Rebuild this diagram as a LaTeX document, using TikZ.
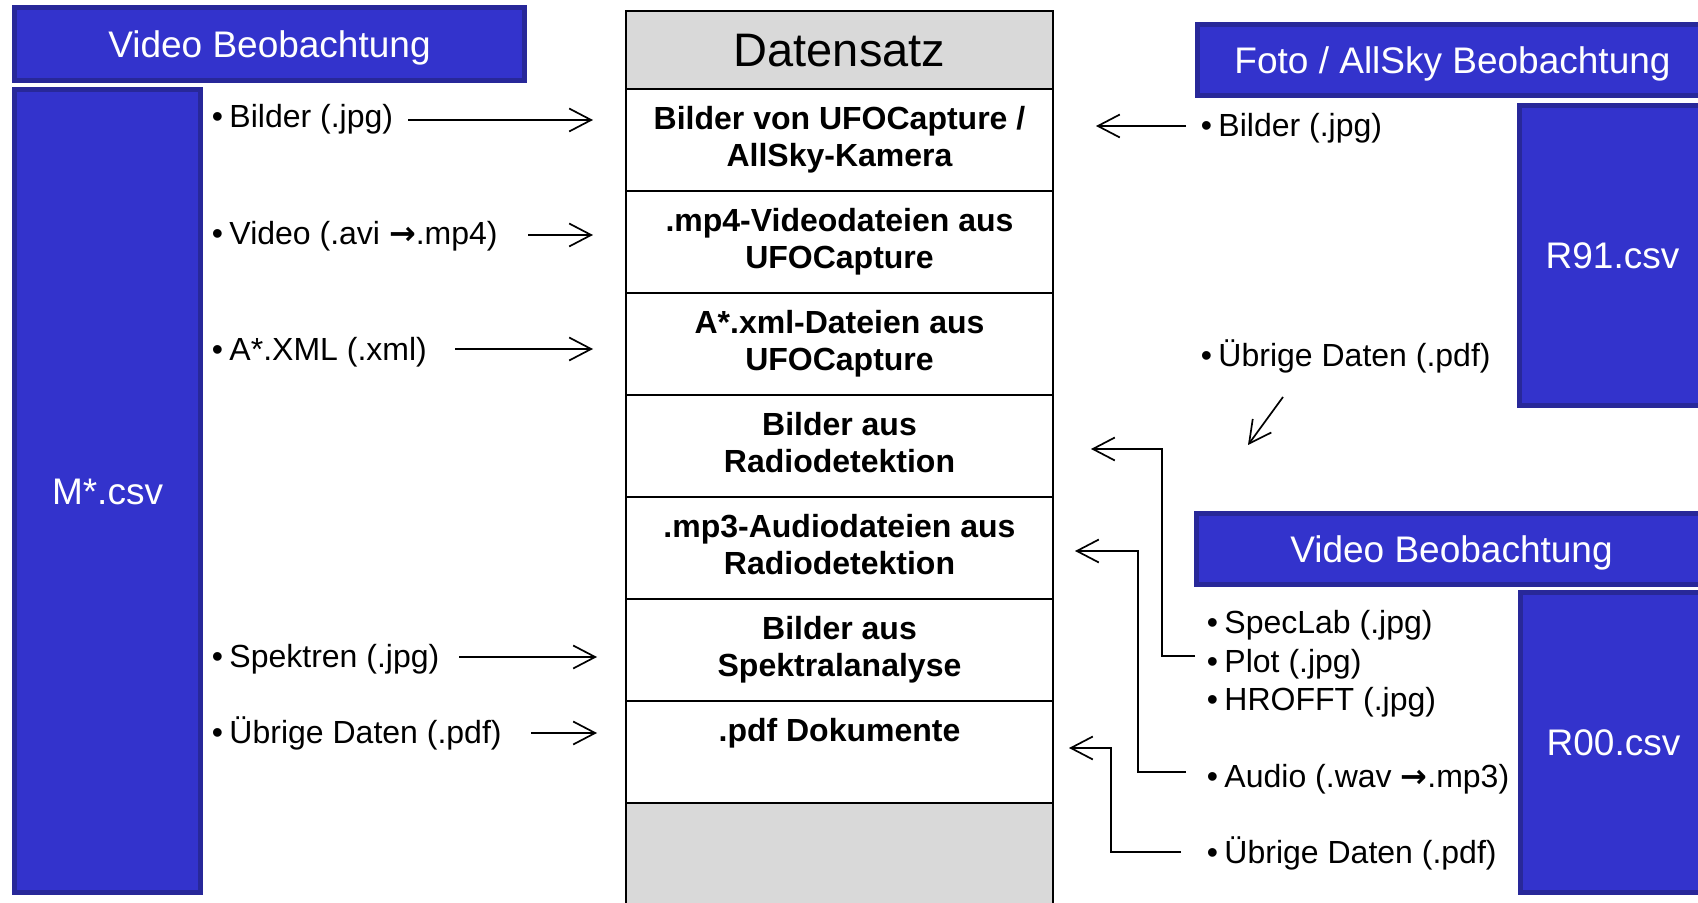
\documentclass[tikz,border=0pt]{standalone}
\usepackage{fontspec}
\setmainfont{Liberation Sans}
\newfontfamily\arrowfont{DejaVu Sans}
\usetikzlibrary{arrows.meta}
\definecolor{bfill}{RGB}{51,51,204}
\definecolor{bdark}{RGB}{40,40,153}
\definecolor{hgray}{RGB}{217,217,217}
\newcommand\rowstrut{\rule[-3.52pt]{0pt}{14.98pt}}
\newcommand\toarrow{{\arrowfont\bfseries →}}
\begin{document}
\begin{tikzpicture}[x=0.5pt,y=-0.5pt,
  bluebox/.style={draw=bdark, fill=bfill, line width=2.5pt, text=white,
    font=\fontsize{18.5}{22}\selectfont, text height=13.25pt, text depth=0pt, inner sep=0pt},
  dshead/.style={draw=black, fill=hgray, line width=0.8pt, minimum width=213.5pt,
    minimum height=39pt, inner sep=0pt, font=\fontsize{23.5}{28}\selectfont,
    text height=16.8pt, text depth=0pt},
  dsrow/.style={draw=black, line width=0.8pt, minimum width=213.5pt, minimum height=51pt,
    inner sep=0pt, align=center, font=\fontsize{16}{18.5}\selectfont\bfseries},
  bul/.style={anchor=base west, inner sep=0pt, font=\fontsize{16}{19}\selectfont},
  arr/.style={line width=0.85pt, -{Straight Barb[length=11pt,width=11.5pt]}}
]
\useasboundingbox (0,0) rectangle (1698,903);
\clip (0,0) rectangle (1698,903);

% blue boxes
\node[bluebox, minimum width=255pt, minimum height=36.5pt] (hdrL) at (269.5,44) {Video Beobachtung};
\node[bluebox, minimum width=93pt, minimum height=401.5pt] (mcsv) at (107.5,491) {M*.csv};
\node[bluebox, minimum width=255pt, minimum height=35.5pt] (hdrF) at (1452.5,60) {Foto / AllSky Beobachtung};
\node[bluebox, minimum width=93pt, minimum height=150pt] (rcsv) at (1612.5,255.5) {R91.csv};
\node[bluebox, minimum width=255pt, minimum height=35.5pt] (hdrV) at (1451.5,549) {Video Beobachtung};
\node[bluebox, minimum width=93pt, minimum height=150pt] (rzero) at (1613.5,742.5) {R00.csv};

% Datensatz column
\node[dshead] (dsh) at (839.5,50) {Datensatz};
\node[dsrow] (row1) at (839.5,140) {\rowstrut Bilder von UFOCapture /\\\rowstrut AllSky-Kamera};
\node[dsrow] (row2) at (839.5,242) {\rowstrut .mp4-Videodateien aus\\\rowstrut UFOCapture};
\node[dsrow] (row3) at (839.5,344) {\rowstrut A*.xml-Dateien aus\\\rowstrut UFOCapture};
\node[dsrow] (row4) at (839.5,446) {\rowstrut Bilder aus\\\rowstrut Radiodetektion};
\node[dsrow] (row5) at (839.5,548) {\rowstrut .mp3-Audiodateien aus\\\rowstrut Radiodetektion};
\node[dsrow] (row6) at (839.5,650) {\rowstrut Bilder aus\\\rowstrut Spektralanalyse};
\node[dsrow] (row7) at (839.5,752) {\rowstrut .pdf Dokumente\\\rowstrut};
\node[dshead, minimum height=54pt] (dsfoot) at (839.5,857) {};

% left bullet texts
\node[bul] (lbild) at (211.5,128) {•\hspace{0.2em}Bilder (.jpg)};
\node[bul] (lvideo) at (211.5,245) {•\hspace{0.2em}Video (.avi \toarrow.mp4)};
\node[bul] (lxml) at (211.5,361) {•\hspace{0.2em}A*.XML (.xml)};
\node[bul] (lspek) at (211.5,667) {•\hspace{0.2em}Spektren (.jpg)};
\node[bul] (luebr) at (211.5,743) {•\hspace{0.2em}Übrige Daten (.pdf)};

% right bullet texts
\node[bul] (rbild) at (1200.5,137) {•\hspace{0.2em}Bilder (.jpg)};
\node[bul] (ruebr) at (1200.5,367) {•\hspace{0.2em}Übrige Daten (.pdf)};
\node[bul] (rspec) at (1206.5,633) {•\hspace{0.2em}SpecLab (.jpg)};
\node[bul] (rplot) at (1206.5,672) {•\hspace{0.2em}Plot (.jpg)};
\node[bul] (rhro) at (1206.5,710) {•\hspace{0.2em}HROFFT (.jpg)};
\node[bul] (raudio) at (1206.5,787) {•\hspace{0.2em}Audio (.wav \toarrow.mp3)};
\node[bul] (ruebrb) at (1206.5,863) {•\hspace{0.2em}Übrige Daten (.pdf)};

% connector end points
\coordinate (a1s) at (408,120);  \coordinate (a1e) at (593,120);
\coordinate (a2s) at (528,235);  \coordinate (a2e) at (593,235);
\coordinate (a3s) at (455,349);  \coordinate (a3e) at (593,349);
\coordinate (a4s) at (459,657);  \coordinate (a4e) at (597,657);
\coordinate (a5s) at (531,733);  \coordinate (a5e) at (597,733);
\coordinate (b1s) at (1186,126); \coordinate (b1e) at (1096,126);
\coordinate (b2s) at (1283,397); \coordinate (b2e) at (1248,445);
\coordinate (c1s) at (1195,656); \coordinate (c1e) at (1091,449);
\coordinate (c2s) at (1186,772); \coordinate (c2e) at (1075,551);
\coordinate (c3s) at (1181,852); \coordinate (c3e) at (1069,748);

% connectors
\draw[arr] (a1s) -- (a1e);
\draw[arr] (a2s) -- (a2e);
\draw[arr] (a3s) -- (a3e);
\draw[arr] (a4s) -- (a4e);
\draw[arr] (a5s) -- (a5e);
\draw[arr] (b1s) -- (b1e);
\draw[arr] (b2s) -- (b2e);
\draw[arr] (c1s) -- (1162,656) -- (1162,449) -- (c1e);
\draw[arr] (c2s) -- (1138,772) -- (1138,551) -- (c2e);
\draw[arr] (c3s) -- (1111,852) -- (1111,748) -- (c3e);
\end{tikzpicture}
\end{document}
